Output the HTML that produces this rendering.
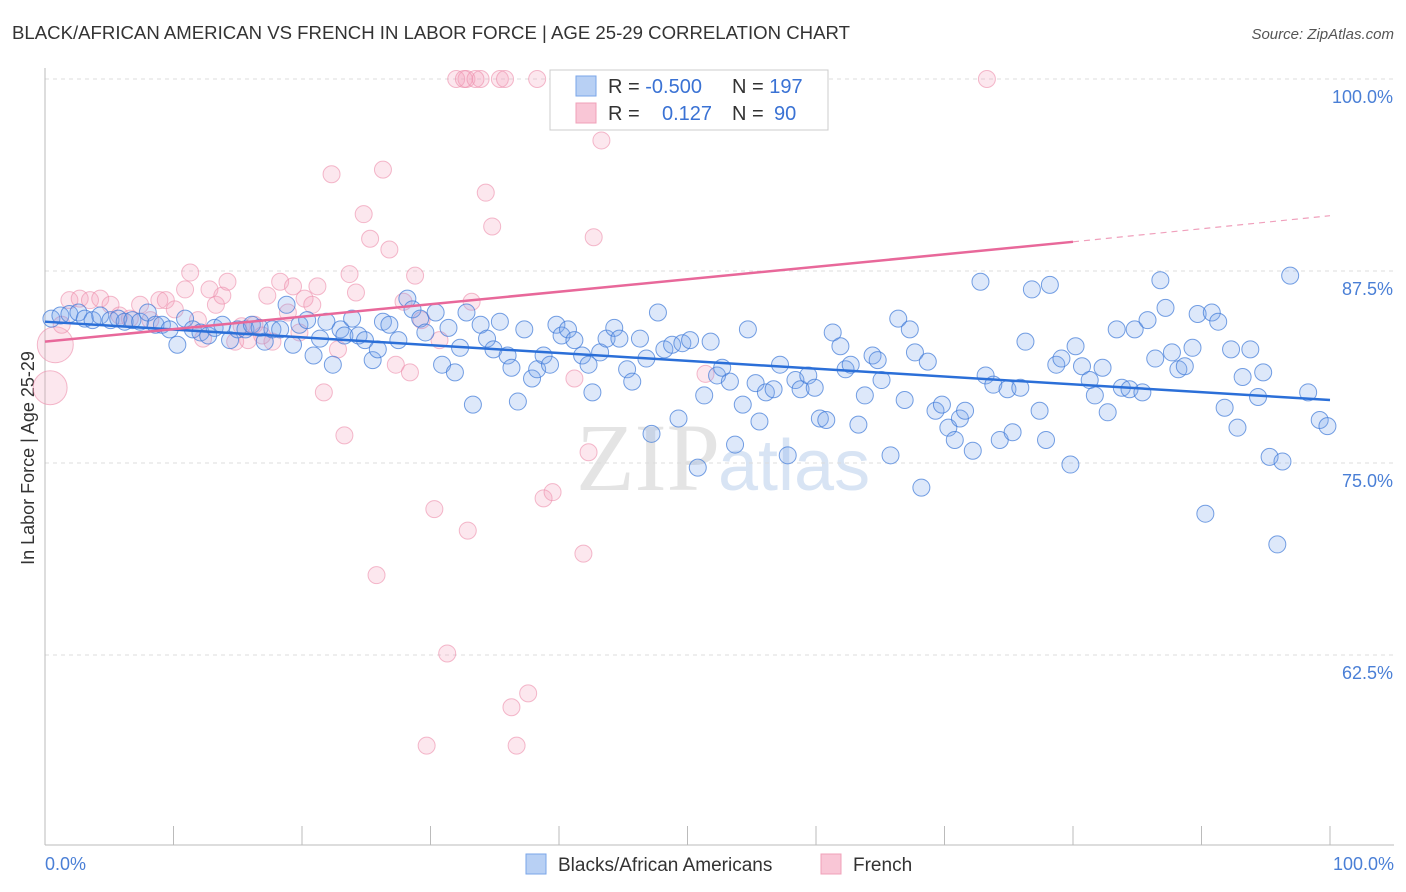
<!DOCTYPE html>
<html><head><meta charset="utf-8"><style>
body{margin:0;background:#fff;font-family:"Liberation Sans",sans-serif;}
svg{display:block}
</style></head><body>
<svg id="chart" width="1406" height="892">
<text x="12" y="39" font-size="18.6" fill="#333">BLACK/AFRICAN AMERICAN VS FRENCH IN LABOR FORCE | AGE 25-29 CORRELATION CHART</text>
<text x="1394" y="39" font-size="15" fill="#555" font-style="italic" text-anchor="end">Source: ZipAtlas.com</text>
<text x="34" y="458" font-size="18" fill="#333" text-anchor="middle" transform="rotate(-90 34 458)">In Labor Force | Age 25-29</text>
<text x="720" y="490" font-size="96" fill="#e4e4e4" text-anchor="end" font-family="Liberation Serif,serif">ZIP</text>
<text x="718" y="490" font-size="72" fill="#d8e4f4">atlas</text>
<g id="grid"></g><g id="pts"></g><g id="lines"></g>
<g>
<rect x="550" y="70" width="278" height="60" fill="#fff" stroke="#ccc"/>
<rect x="576" y="76" width="20" height="20" fill="#b8d0f4" stroke="#7aa6e8"/>
<rect x="576" y="103" width="20" height="20" fill="#f9c6d6" stroke="#f0a0b8"/>
<text x="608" y="93" font-size="20" fill="#333">R = <tspan fill="#3a72d4">-0.500</tspan></text>
<text x="732" y="93" font-size="20" fill="#333">N = <tspan fill="#3a72d4">197</tspan></text>
<text x="608" y="120" font-size="20" fill="#333">R = </text>
<text x="662" y="120" font-size="20" fill="#3a72d4">0.127</text>
<text x="732" y="120" font-size="20" fill="#333">N = </text>
<text x="774" y="120" font-size="20" fill="#3a72d4">90</text>
</g>
<g>
<rect x="526" y="854" width="20" height="20" fill="#b8d0f4" stroke="#7aa6e8"/>
<text x="558" y="871" font-size="19" fill="#333">Blacks/African Americans</text>
<rect x="821" y="854" width="20" height="20" fill="#f9c6d6" stroke="#f0a0b8"/>
<text x="853" y="871" font-size="19" fill="#333">French</text>
</g>
</svg>
<script>
const yTicks=[100,87.5,75,62.5];
const yTickLabels=["100.0%","87.5%","75.0%","62.5%"];
const xTickLabels=["0.0%","100.0%"];
const blueX=[0.5,1.2,1.9,2.6,3.1,3.7,4.3,5.1,5.7,6.2,6.8,7.4,8.0,8.6,9.1,9.7,10.3,10.9,11.5,12.1,12.7,13.2,13.8,14.4,15.0,15.6,16.1,16.7,17.1,17.7,18.3,18.8,19.3,19.8,20.4,20.9,21.4,21.9,22.4,23.0,23.3,23.9,24.4,24.9,25.5,25.9,26.3,26.8,27.5,28.2,28.6,29.2,29.6,30.4,30.9,31.4,31.9,32.3,32.8,33.3,33.9,34.4,34.9,35.4,36.0,36.3,36.8,37.3,37.9,38.3,38.8,39.3,39.8,40.2,40.7,41.2,41.8,42.3,42.6,43.2,43.7,44.3,44.7,45.3,45.7,46.3,46.8,47.2,47.7,48.2,48.8,49.3,49.6,50.2,50.8,51.3,51.8,52.3,52.7,53.3,53.7,54.3,54.7,55.3,55.6,56.1,56.7,57.2,57.8,58.4,58.8,59.4,59.9,60.3,60.8,61.3,61.9,62.3,62.7,63.3,63.8,64.4,64.8,65.1,65.8,66.4,66.9,67.3,67.7,68.2,68.7,69.3,69.8,70.3,70.8,71.2,71.6,72.2,72.8,73.2,73.8,74.3,74.9,75.3,75.9,76.3,76.8,77.4,77.9,78.2,78.7,79.1,79.8,80.2,80.7,81.3,81.7,82.3,82.7,83.4,83.8,84.4,84.8,85.4,85.8,86.4,86.8,87.2,87.7,88.2,88.7,89.3,89.7,90.3,90.8,91.3,91.8,92.3,92.8,93.2,93.8,94.4,94.8,95.3,95.9,96.3,96.9,98.3,99.2,99.8];
const blueY=[84.4,84.6,84.7,84.8,84.4,84.3,84.6,84.3,84.4,84.2,84.3,84.2,84.8,84.0,84.0,83.7,82.7,84.4,83.7,83.5,83.3,83.8,84.0,83.0,83.7,83.7,84.0,83.8,82.9,83.7,83.7,85.3,82.7,84.0,84.3,82.0,83.1,84.2,81.4,83.7,83.3,84.4,83.3,83.0,81.7,82.4,84.2,84.0,83.0,85.7,85.0,84.4,83.5,84.8,81.4,83.8,80.9,82.5,84.8,78.8,84.0,83.1,82.4,84.2,82.0,81.2,79.0,83.7,80.5,81.1,82.0,81.4,84.0,83.3,83.7,83.0,82.0,81.4,79.6,82.2,83.1,83.8,83.1,81.1,80.3,83.1,81.8,76.9,84.8,82.4,82.7,77.9,82.8,83.0,74.7,79.4,82.9,80.7,81.2,80.3,76.2,78.8,83.7,80.2,77.7,79.6,79.8,81.4,75.5,80.4,79.8,80.7,79.9,77.9,77.8,83.5,82.6,81.1,81.4,77.5,79.4,82.0,81.7,80.4,75.5,84.4,79.1,83.7,82.2,73.4,81.6,78.4,78.8,77.3,76.5,77.9,78.4,75.8,86.8,80.7,80.1,76.5,79.8,77.0,79.9,82.9,86.3,78.4,76.5,86.6,81.4,81.8,74.9,82.6,81.3,80.4,79.4,81.2,78.3,83.7,79.9,79.8,83.7,79.6,84.3,81.8,86.9,85.1,82.2,81.1,81.3,82.5,84.7,71.7,84.8,84.2,78.6,82.4,77.3,80.6,82.4,79.3,80.9,75.4,69.7,75.1,87.2,79.6,77.8,77.4];
const pinkX=[0.4,0.8,1.3,1.9,2.7,3.5,4.3,5.1,5.8,6.6,7.4,8.2,8.9,9.4,10.1,10.9,11.3,11.9,12.3,12.8,13.3,13.8,14.2,14.8,15.3,15.8,16.3,16.9,17.3,17.7,18.3,18.9,19.3,19.8,20.2,20.8,21.2,21.7,22.3,22.8,23.3,23.7,24.2,24.8,25.3,25.8,26.3,26.8,27.3,27.9,28.4,28.8,29.3,30.3,30.7,31.3,32.0,32.8,32.9,33.2,33.9,34.3,34.8,35.4,35.8,36.3,36.7,37.6,38.3,38.8,39.5,40.2,41.2,41.9,42.3,42.7,43.3,44.1,44.9,51.4,55.9,73.3,29.7,32.6,33.5];
const pinkY=[79.9,82.7,84.0,85.6,85.7,85.6,85.7,85.3,84.6,84.4,85.3,84.3,85.6,85.6,85.0,86.3,87.4,84.3,83.1,86.3,85.3,85.9,86.8,82.9,83.9,83.0,84.0,83.3,85.9,82.9,86.8,84.8,86.5,83.5,85.7,85.3,86.5,79.6,93.8,82.4,76.8,87.3,86.1,91.2,89.6,67.7,94.1,88.9,81.4,85.5,80.9,87.2,84.3,72.0,83.0,62.6,100,100,70.6,85.5,100,92.6,90.4,100,100,59.1,56.6,60.0,100,72.7,73.1,100,80.5,69.1,75.7,89.7,96.0,100,100,80.8,100,100,56.6,100,100];
const blueTrend=[[0,84.2],[100,79.1]];
const pinkTrend=[[0,82.9],[80,89.4],[100,91.1]];
const X=v=>45+v*12.85, Y=v=>79+(100-v)*15.36;
const NS="http://www.w3.org/2000/svg";
function mk(tag,attrs,parent){const e=document.createElementNS(NS,tag);for(const k in attrs)e.setAttribute(k,attrs[k]);parent.appendChild(e);return e;}
const grid=document.getElementById('grid');
yTicks.forEach((t,i)=>{
  const l=mk('line',{x1:45,x2:1394,y1:Y(t),y2:Y(t),stroke:'#ddd','stroke-dasharray':'4 4'},grid);
  
  
  const tx=mk('text',{x:1393,y:Y(t)+24,'font-size':18,fill:'#4a7fd6','text-anchor':'end'},grid);
  tx.textContent=yTickLabels[i];
  
  
});
const ax=mk('line',{x1:45,x2:1394,y1:845,y2:845,stroke:'#bbb'},grid);


const ay=mk('line',{x1:45,x2:45,y1:68,y2:845,stroke:'#bbb'},grid);


for(let i=0;i<=10;i++){
  const t=mk('line',{x1:X(i*10),x2:X(i*10),y1:826,y2:845,stroke:'#bbb'},grid);
  
  
}
[[0,'start',45],[1,'end',1394]].forEach(([i,a,x])=>{
  const t=mk('text',{x:x,y:870,'font-size':18,fill:'#4a7fd6','text-anchor':a},grid);
  t.textContent=xTickLabels[i];
  
  
});
const pts=document.getElementById('pts');
pinkX.forEach((x,i)=>{
  const r=i===0?17:(i===1?18:8.5);
  const c=mk('circle',{cx:X(x),cy:Y(pinkY[i]),r:r,fill:'rgba(244,160,188,0.25)',stroke:'rgba(236,140,170,0.6)','stroke-width':1},pts);
  
  
});
blueX.forEach((x,i)=>{
  const c=mk('circle',{cx:X(x),cy:Y(blueY[i]),r:8.5,fill:'rgba(120,165,235,0.25)',stroke:'rgba(60,120,215,0.7)','stroke-width':1},pts);
  
  
});
const lines=document.getElementById('lines');
const bl=mk('line',{x1:X(blueTrend[0][0]),y1:Y(blueTrend[0][1]),x2:X(blueTrend[1][0]),y2:Y(blueTrend[1][1]),stroke:'#2b6fd8','stroke-width':2.5},lines);


const pl=mk('line',{x1:X(pinkTrend[0][0]),y1:Y(pinkTrend[0][1]),x2:X(pinkTrend[1][0]),y2:Y(pinkTrend[1][1]),stroke:'#e8689a','stroke-width':2.5},lines);


const pd=mk('line',{x1:X(pinkTrend[1][0]),y1:Y(pinkTrend[1][1]),x2:X(pinkTrend[2][0]),y2:Y(pinkTrend[2][1]),stroke:'#f0a0bc','stroke-width':1.2,'stroke-dasharray':'6 5'},lines);


</script>
</body></html>
